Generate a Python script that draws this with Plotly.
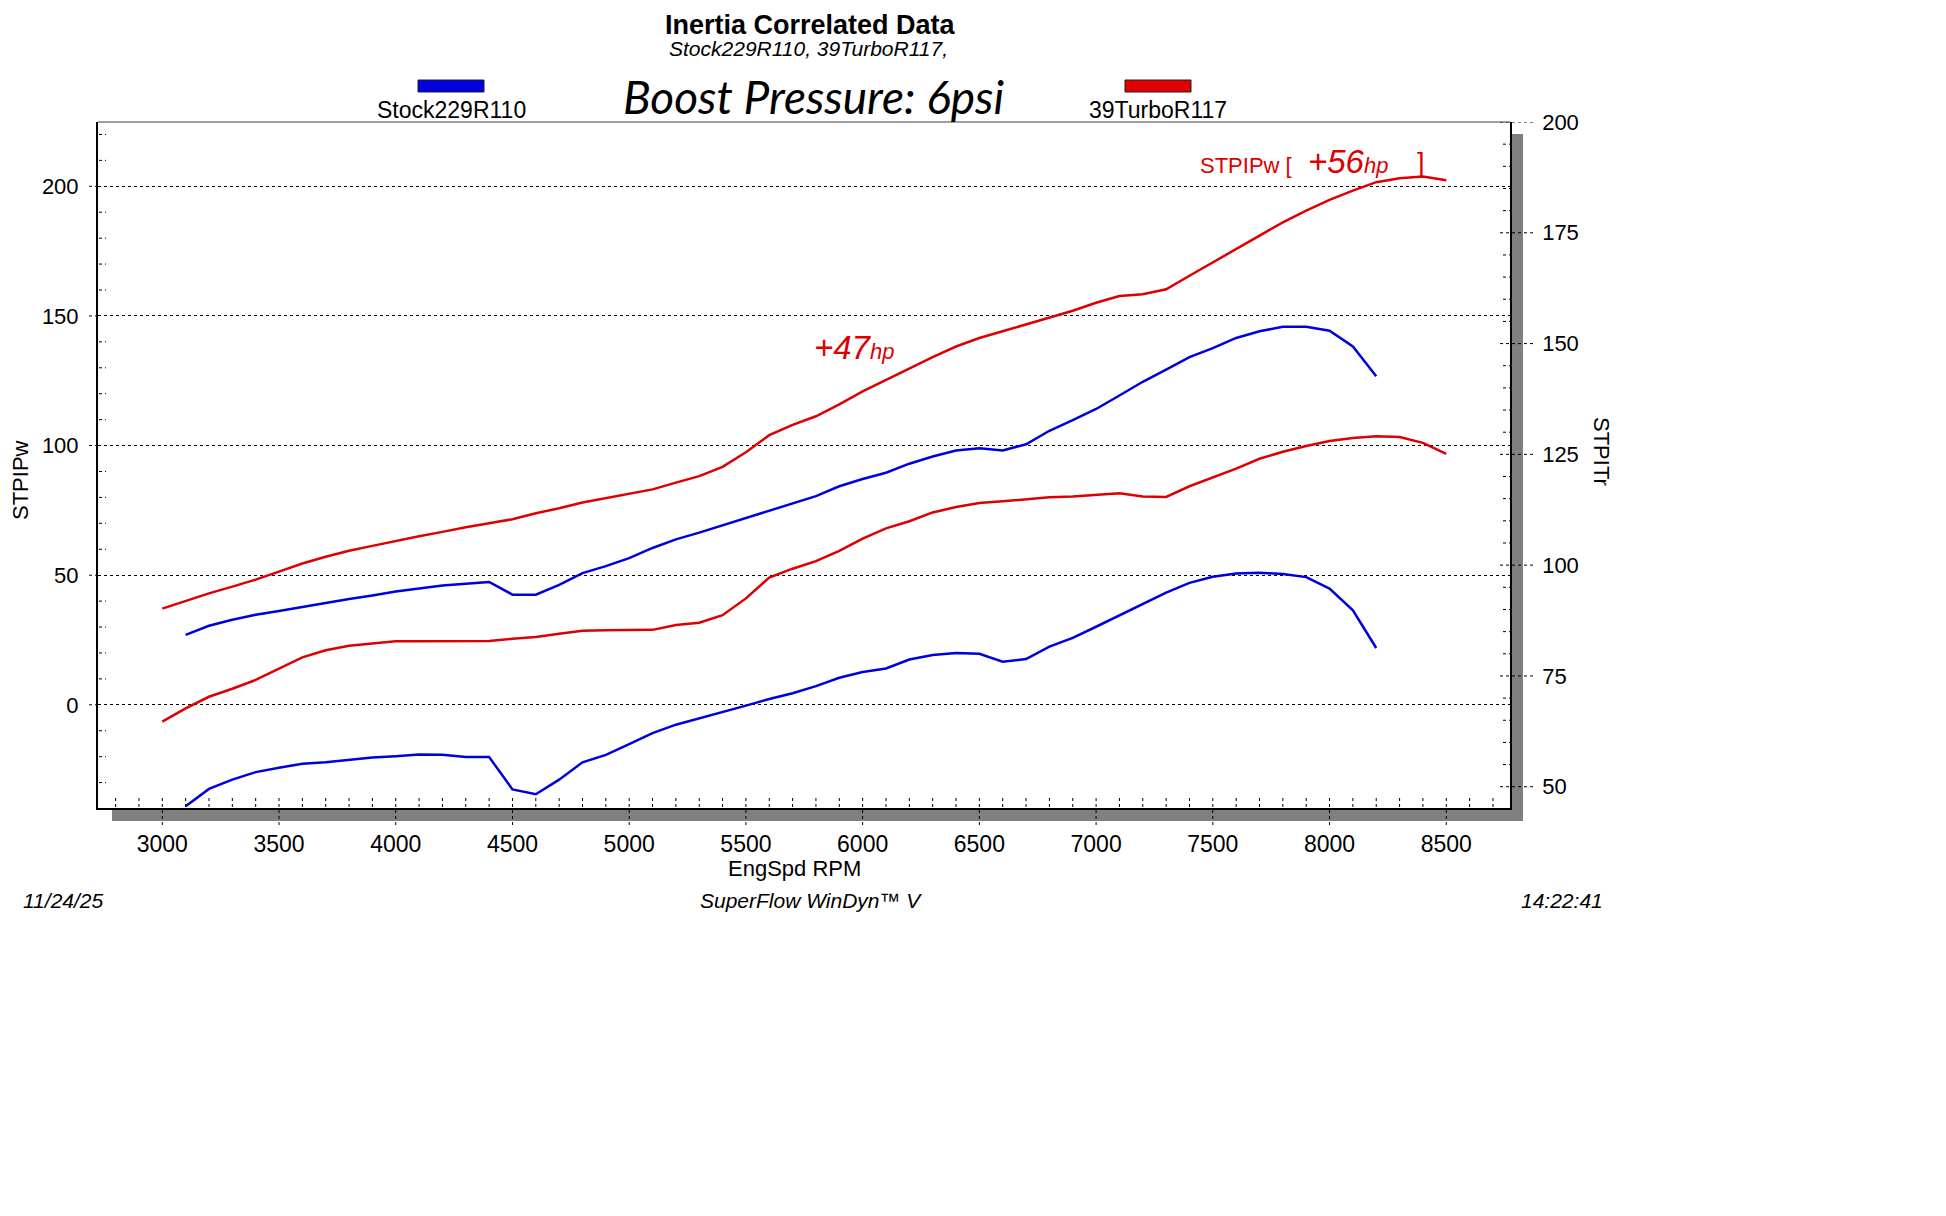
import plotly.graph_objects as go

# ---------------- data ----------------
turbo_rpm = list(range(3000, 8501, 100))
turbo_power = [37.1, 40.1, 43.0, 45.6, 48.3, 51.4, 54.5, 57.1, 59.4, 61.3,
               63.2, 65.0, 66.7, 68.5, 70.0, 71.6, 73.9, 75.8, 78.0, 79.8,
               81.4, 83.1, 85.7, 88.2, 91.8, 97.4, 104.0, 108.0, 111.3, 115.9,
               120.9, 125.4, 129.8, 134.1, 138.2, 141.5, 144.1, 146.7, 149.5, 152.0,
               155.1, 157.7, 158.4, 160.3, 165.5, 170.7, 175.9, 181.2, 186.1, 190.6,
               194.8, 198.3, 201.6, 203.1, 203.8, 202.3]
turbo_torque = [64.7, 67.7, 70.3, 72.1, 74.1, 76.6, 79.2, 80.8, 81.8, 82.3,
                82.8, 82.8, 82.8, 82.8, 82.9, 83.4, 83.8, 84.5, 85.2, 85.3,
                85.3, 85.4, 86.5, 87.0, 88.7, 92.5, 97.2, 99.2, 100.9, 103.2,
                106.0, 108.3, 109.9, 111.9, 113.1, 114.0, 114.4, 114.9, 115.3, 115.5,
                115.9, 116.2, 115.5, 115.4, 117.8, 119.8, 121.8, 124.0, 125.6, 126.9,
                128.0, 128.7, 129.1, 128.9, 127.6, 125.1]

stock_rpm = list(range(3100, 8201, 100))
stock_power = [27.0, 30.5, 32.8, 34.7, 36.2, 37.8, 39.4, 40.8, 42.2, 43.7,
               44.9, 46.0, 46.7, 47.4, 42.5, 42.5, 46.3, 50.8, 53.5, 56.6,
               60.5, 63.8, 66.4, 69.2, 72.0, 74.7, 77.5, 80.5, 84.3, 87.1,
               89.5, 93.0, 95.8, 98.1, 99.0, 98.1, 100.5, 105.7, 109.8, 114.1,
               119.3, 124.6, 129.3, 134.1, 137.6, 141.5, 144.1, 145.8, 145.8, 144.3,
               138.2, 126.7]
stock_torque = [45.6, 49.5, 51.6, 53.3, 54.3, 55.2, 55.5, 56.1, 56.6, 56.9,
                57.3, 57.2, 56.7, 56.7, 49.4, 48.3, 51.6, 55.5, 57.2, 59.6,
                62.1, 64.0, 65.4, 66.8, 68.3, 69.8, 71.1, 72.7, 74.6, 75.9,
                76.7, 78.7, 79.7, 80.2, 80.0, 78.2, 78.8, 81.6, 83.6, 86.1,
                88.7, 91.3, 93.8, 96.0, 97.4, 98.1, 98.3, 98.0, 97.3, 94.7,
                89.8, 81.3]

x_ticks = [3000, 3500, 4000, 4500, 5000, 5500, 6000, 6500, 7000, 7500, 8000, 8500]
x_minor = list(range(2800, 8701, 100))
y_ticks = [0, 50, 100, 150, 200]
y_minor = list(range(-30, 221, 10))
y2_ticks = [50, 75, 100, 125, 150, 175, 200]
y2_minor = list(range(50, 200, 5))

RED = "#dd0000"
BLUE = "#0000dd"
FONT = "Liberation Sans, Arial, sans-serif"

# plot area in screenshot pixels (page has an 8 px body margin)
W, H = 1946, 1216
OFF = 8
PL, PR, PT, PB = 98, 1510, 122, 808


def px(x):
    return (x - PL) / (PR - PL)


def py(y):
    return (PB - y) / (PB - PT)


fig = go.Figure()
fig.add_trace(go.Scatter(x=turbo_rpm, y=turbo_power, mode="lines",
                         line=dict(color=RED, width=2.5), yaxis="y", name="39TurboR117 STPIPw"))
fig.add_trace(go.Scatter(x=stock_rpm, y=stock_power, mode="lines",
                         line=dict(color=BLUE, width=2.5), yaxis="y", name="Stock229R110 STPIPw"))
fig.add_trace(go.Scatter(x=turbo_rpm, y=turbo_torque, mode="lines",
                         line=dict(color=RED, width=2.5), yaxis="y2", name="39TurboR117 STPITr"))
fig.add_trace(go.Scatter(x=stock_rpm, y=stock_torque, mode="lines",
                         line=dict(color=BLUE, width=2.5), yaxis="y2", name="Stock229R110 STPITr"))

shapes = []
# drop shadow
shapes.append(dict(type="rect", xref="paper", yref="paper", x0=px(1511), x1=px(1523),
                   y0=py(821), y1=py(134), fillcolor="#808080", line=dict(width=0), layer="below"))
shapes.append(dict(type="rect", xref="paper", yref="paper", x0=px(112), x1=px(1523),
                   y0=py(821), y1=py(809), fillcolor="#808080", line=dict(width=0), layer="below"))
# top border
shapes.append(dict(type="line", xref="paper", yref="paper", x0=0, x1=1, y0=1, y1=1,
                   line=dict(color="#404040", width=1.2)))
dot = dict(color="black", width=1, dash="dot")
# x ticks
for v in x_minor:
    if v in x_ticks:
        shapes.append(dict(type="line", xref="x", yref="paper", x0=v, x1=v,
                           y0=py(825), y1=py(795), line=dot))
    else:
        shapes.append(dict(type="line", xref="x", yref="paper", x0=v, x1=v,
                           y0=py(807), y1=py(795), line=dot))
# left ticks
for v in y_minor:
    if v in y_ticks:
        shapes.append(dict(type="line", xref="paper", yref="y", x0=px(89), x1=px(98),
                           y0=v, y1=v, line=dot))
    else:
        shapes.append(dict(type="line", xref="paper", yref="y", x0=px(99), x1=px(106),
                           y0=v, y1=v, line=dot))
# right ticks
for v in y2_minor + [200]:
    if v in y2_ticks:
        shapes.append(dict(type="line", xref="paper", yref="y2", x0=px(1500), x1=px(1533),
                           y0=v, y1=v, line=dot))
    else:
        shapes.append(dict(type="line", xref="paper", yref="y2", x0=px(1503), x1=px(1510),
                           y0=v, y1=v, line=dot))
# legend swatches
shapes.append(dict(type="rect", xref="paper", yref="paper", x0=px(418), x1=px(484),
                   y0=py(92), y1=py(80), fillcolor="#0000e0", line=dict(color="#202020", width=1)))
shapes.append(dict(type="rect", xref="paper", yref="paper", x0=px(1125), x1=px(1191),
                   y0=py(92), y1=py(80), fillcolor="#e00000", line=dict(color="#202020", width=1)))


def ann(text, x, y, size, color="black", xanchor="center", yanchor="middle", angle=0,
        family=FONT):
    return dict(text=text, x=px(x), y=py(y), xref="paper", yref="paper", showarrow=False,
                xanchor=xanchor, yanchor=yanchor, textangle=angle, borderpad=0,
                font=dict(family=family, size=size, color=color))


annotations = [
    ann("<b>Inertia Correlated Data</b>", 810, 25, 27),
    ann("<i>Stock229R110, 39TurboR117,</i>", 808, 49, 21),
    ann("<i>Boost Pressure: 6psi</i>", 814, 96, 46, family="Lato, Open Sans, sans-serif"),
    ann("Stock229R110", 451, 110, 23),
    ann("39TurboR117", 1158, 110, 23),
    ann("STPIPw", 20, 480, 22, angle=-90),
    ann("STPITr", 1602, 451, 22, angle=90),
    ann("EngSpd RPM", 794, 868, 22),
    ann("<i>11/24/25</i>", 22, 900, 21, xanchor="left"),
    ann("<i>SuperFlow WinDyn™ V</i>", 811, 901, 21),
    ann("<i>14:22:41</i>", 1562, 901, 21),
    ann("<i>+47<span style='font-size:22px'>hp</span></i>", 813, 347, 33, color=RED,
        xanchor="left"),
    ann("STPIPw [", 1199, 165, 22, color=RED, xanchor="left"),
    ann("<i>+56<span style='font-size:22px'>hp</span></i>", 1307, 162, 33, color=RED,
        xanchor="left"),
    ann("]", 1416, 163, 27, color=RED, xanchor="left"),
]

fig.update_layout(
    width=W, height=H, autosize=False,
    margin=dict(l=PL - OFF, r=W - (PR - OFF), t=PT - OFF, b=H - (PB - OFF), pad=0),
    paper_bgcolor="white", plot_bgcolor="white",
    showlegend=False,
    font=dict(family=FONT, color="black"),
    xaxis=dict(range=[2724.6, 8773], tickvals=x_ticks, showgrid=False, zeroline=False,
               showline=True, linecolor="black", linewidth=2, ticks="",
               tickfont=dict(size=23, family=FONT, color="black"), ticklabelstandoff=14),
    yaxis=dict(range=[-39.8, 224.8], tickvals=y_ticks, showgrid=True, gridcolor="black",
               griddash="dot", gridwidth=1, zeroline=False, showline=True,
               linecolor="black", linewidth=2, ticks="",
               tickfont=dict(size=22, family=FONT, color="black"), ticklabelstandoff=13),
    yaxis2=dict(range=[45.2, 200], tickvals=y2_ticks, overlaying="y", side="right",
                showgrid=False, zeroline=False, showline=True, linecolor="black",
                linewidth=1.5, ticks="",
                tickfont=dict(size=22, family=FONT, color="black"), ticklabelstandoff=26),
    shapes=shapes,
    annotations=annotations,
)

fig.write_html("out.html")
